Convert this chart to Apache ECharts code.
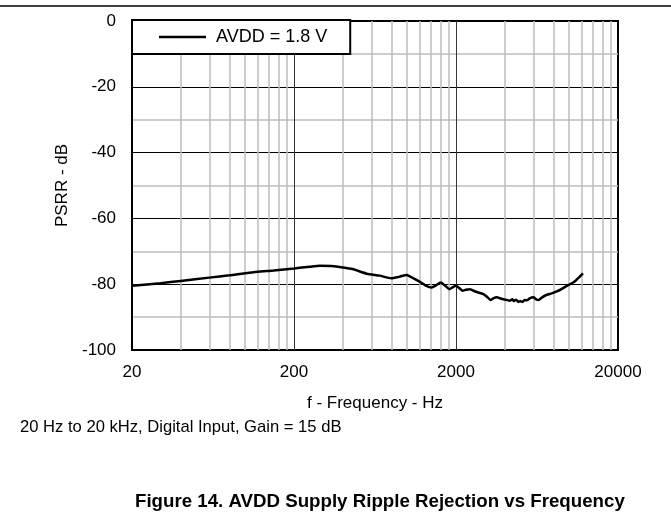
<!DOCTYPE html>
<html>
<head>
<meta charset="utf-8">
<script src="https://cdn.jsdelivr.net/npm/echarts@6/dist/echarts.min.js"></script>
<style>
html,body{margin:0;padding:0;background:#fff;}
#chart{width:671px;height:529px;}
</style>
</head>
<body>
<div id="chart"></div>
<script>
// ---- data ----
const freqHz = [20,30,40,60,80,106,150,200,250,288,340,400,460,562,676,797,900,991,1100,1197,1300,1416,1500,1609,1700,1820,1900,2000,2100,2200,2300,2440,2650,2950,3100,3275,3400,3565,3800,4110,4300,4450,4530,4700,4850,4980,5150,5300,5480,5700,6020,6250,6470,6800,7280,7800,8380,9000,9670,10300,10900,11500,12150];
const psrrDb = [-80.5,-79.7,-79.0,-78.0,-77.3,-76.5,-75.8,-75.2,-74.7,-74.4,-74.5,-74.9,-75.4,-76.8,-77.4,-78.2,-77.7,-77.2,-78.3,-79.3,-80.4,-81.0,-80.4,-79.5,-80.3,-81.5,-81.0,-80.5,-81.2,-82.0,-81.7,-81.5,-82.3,-83.0,-83.8,-84.8,-84.3,-84.0,-84.4,-84.8,-85.0,-84.6,-85.1,-84.7,-85.4,-85.1,-85.4,-84.8,-84.9,-84.3,-84.0,-84.6,-84.8,-84.0,-83.2,-82.8,-82.2,-81.4,-80.5,-79.8,-79.0,-77.9,-76.7];
const xTickLabels = [20, 200, 2000, 20000];
const xMajorGrid = [200, 2000];
const xMinorGrid = [40,60,80,100,120,140,160,180,400,600,800,1000,1200,1400,1600,1800,4000,6000,8000,10000,12000,14000,16000,18000];
const seriesName = 'AVDD = 1.8 V';

const FONT = '"Liberation Sans", Arial, sans-serif';
const chart = echarts.init(document.getElementById('chart'), null, {renderer: 'canvas'});

const gridLineItems = xMinorGrid.map(v => ({xAxis: v, lineStyle: {color: '#bdbdbd', width: 1.5, type: 'solid'}}))
  .concat(xMajorGrid.map(v => ({xAxis: v, lineStyle: {color: '#333', width: 1, type: 'solid'}})));

chart.setOption({
  animation: false,
  backgroundColor: '#fff',
  textStyle: {fontFamily: FONT},
  grid: {left: 132, right: 53, top: 21, bottom: 179, show: true, borderColor: '#000', borderWidth: 2, backgroundColor: 'transparent'},
  legend: {
    left: 132, top: 20, z: 20,
    padding: [8, 23, 8, 27],
    icon: 'rect',
    itemWidth: 47, itemHeight: 2.5, itemGap: 0,
    borderColor: '#000', borderWidth: 2, borderRadius: 0,
    backgroundColor: '#fff',
    formatter: name => ' ' + name,
    textStyle: {fontFamily: FONT, fontSize: 18, color: '#000'},
    itemStyle: {color: '#000'},
    data: [{name: seriesName}]
  },
  xAxis: {
    type: 'log', logBase: 10, min: 20, max: 20000,
    axisLine: {show: true, lineStyle: {color: '#000', width: 2}},
    axisTick: {show: false},
    splitLine: {show: false},
    axisLabel: {customValues: xTickLabels, fontFamily: FONT, fontSize: 17, color: '#000', margin: 14,
      formatter: v => String(Math.round(v))},
    name: 'f - Frequency - Hz', nameLocation: 'middle', nameGap: 45,
    nameTextStyle: {fontFamily: FONT, fontSize: 17, color: '#000'}
  },
  yAxis: {
    type: 'value', min: -100, max: 0, interval: 20,
    axisLine: {show: true, lineStyle: {color: '#000', width: 2}},
    axisTick: {show: false},
    splitLine: {show: true, lineStyle: {color: '#000', width: 1}},
    minorTick: {show: false, splitNumber: 2},
    minorSplitLine: {show: true, lineStyle: {color: '#bdbdbd', width: 1.5}},
    axisLabel: {fontFamily: FONT, fontSize: 17, color: '#000', margin: 16},
    name: 'PSRR - dB', nameLocation: 'middle', nameGap: 60,
    nameTextStyle: {fontFamily: FONT, fontSize: 17, color: '#000'}
  },
  series: [
    {
      name: 'grid', type: 'line', data: [], silent: true,
      markLine: {silent: true, symbol: 'none', label: {show: false}, animation: false, data: gridLineItems}
    },
    {
      name: seriesName, type: 'line', symbol: 'none', smooth: 0.2,
      lineStyle: {color: '#000', width: 2.5}, itemStyle: {color: '#000'},
      data: freqHz.map((f, i) => [f, psrrDb[i]]), z: 5
    }
  ],
  graphic: [
    {type: 'line', shape: {x1: 0, y1: 6, x2: 671, y2: 6}, style: {stroke: '#000', lineWidth: 1.5}},
    {type: 'text', left: 20, top: 419, style: {text: '20 Hz to 20 kHz, Digital Input, Gain = 15 dB', font: '16.6px ' + FONT, fill: '#000'}},
    {type: 'text', left: 135, top: 492, style: {text: 'Figure 14. AVDD Supply Ripple Rejection vs Frequency', font: 'bold 18.7px ' + FONT, fill: '#000'}}
  ]
});
</script>
</body>
</html>
